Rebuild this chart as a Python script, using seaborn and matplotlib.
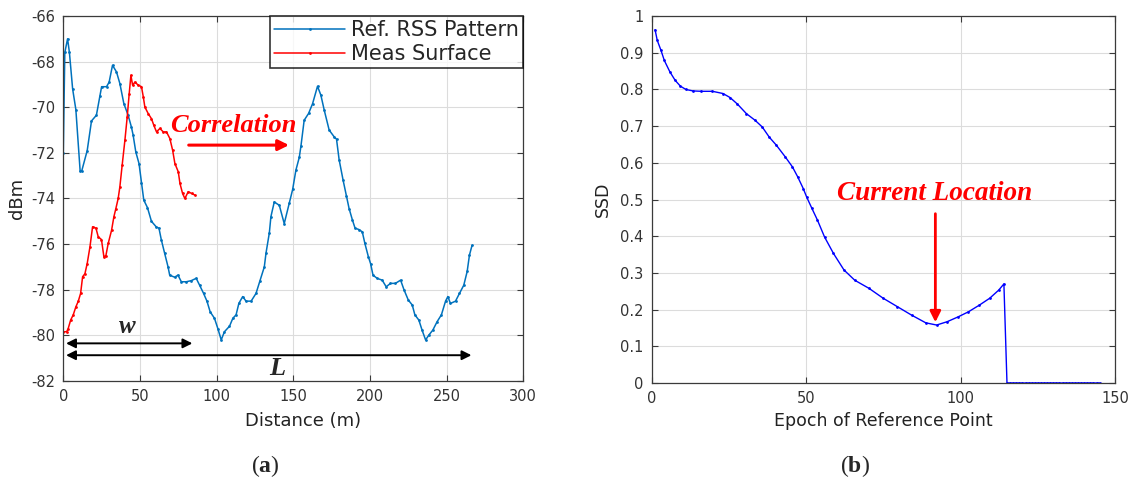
import numpy as np
import pandas as pd
import matplotlib
matplotlib.use("Agg")
import matplotlib.pyplot as plt
import seaborn as sns

# values

# (a) reference RSS pattern along the road
ref_dist = [0, 1, 2.8, 4, 6.1, 8.2, 11, 12, 15.6, 18.4, 21.6, 23.9, 25, 28.2, 29.9,
            32.1, 34.7, 36.9, 39.5, 42.3, 44.4, 45.5, 47.3, 49.4, 51, 52.5, 54.9,
            57.5, 60.7, 62.4, 63.9, 66.1, 68.3, 69.4, 72.6, 74.8, 77, 80.2, 83.5,
            86.7, 88.9, 91.5, 93.7, 95.8, 98.6, 100.8, 103, 105.1, 108.4, 110.6,
            112.7, 114.5, 117, 119.2, 122.5, 125.7, 128.3, 131.1, 132.2, 134.4,
            135.4, 137.6, 140.9, 144.1, 147.4, 149.6, 151.7, 153.9, 155, 157.1,
            160, 162.6, 165.8, 168, 170.2, 173.4, 176.7, 178.2, 179.9, 182.5,
            184.7, 186.4, 188.6, 190.3, 192.8, 195, 196.7, 199, 200.4, 202, 204.7,
            208, 210.6, 213.4, 216.6, 220, 222.2, 225, 227.6, 229.3, 231.9, 234,
            236.3, 238.5, 241, 243.8, 246.6, 249.3, 250.8, 252.5, 255.8, 258.4,
            261.2, 263.4, 264.9, 266.6]
ref_rss = [-72.0, -67.6, -67.0, -67.6, -69.2, -70.1, -72.8, -72.8, -71.9, -70.6,
           -70.35, -69.5, -69.1, -69.1, -68.9, -68.16, -68.45, -68.96, -69.84,
           -70.35, -70.86, -71.2, -71.96, -72.47, -73.3, -74.07, -74.4, -75.0,
           -75.25, -75.3, -75.8, -76.4, -76.99, -77.36, -77.45, -77.36, -77.65,
           -77.65, -77.6, -77.5, -77.8, -78.16, -78.5, -78.97, -79.25, -79.7,
           -80.2, -79.84, -79.6, -79.25, -79.1, -78.6, -78.3, -78.5, -78.5,
           -78.16, -77.6, -77.0, -76.4, -75.5, -74.8, -74.15, -74.3, -75.1,
           -74.2, -73.6, -72.76, -72.2, -71.7, -70.57, -70.27, -69.84, -69.08,
           -69.47, -70.13, -71.0, -71.3, -71.4, -72.3, -73.2, -73.9, -74.44,
           -74.95, -75.3, -75.36, -75.46, -75.97, -76.56, -76.85, -77.36, -77.5,
           -77.58, -77.87, -77.72, -77.72, -77.58, -78.0, -78.45, -78.67, -79.1,
           -79.33, -79.77, -80.2, -79.98, -79.77, -79.4, -79.1, -78.5, -78.3,
           -78.6, -78.5, -78.16, -77.8, -77.2, -76.48, -76.05]

# (a) measured surface
meas_dist = [0, 2.2, 3.2, 4.8, 6.5, 8.2, 9.8, 11.3, 12.6, 14.1, 15.6, 17.4, 19.1,
             21.3, 22.8, 24.9, 26.5, 27.8, 29.3, 31.5, 33, 34.3, 35.8, 36.9, 38.4,
             40.2, 41.7, 43, 44.1, 45.2, 46.7, 48.9, 51, 52.2, 53.2, 55.4, 57.5,
             59.1, 60.8, 63, 65.2, 67.3, 69.5, 71.3, 72.8, 75, 76.1, 77.8, 79.3,
             81.5, 83.7, 85.8]
meas_rss = [-79.84, -79.84, -79.7, -79.33, -79.1, -78.75, -78.5, -78.16, -77.43,
            -77.3, -76.85, -76.12, -75.24, -75.3, -75.68, -75.8, -76.56, -76.5,
            -75.97, -75.39, -74.8, -74.44, -74.0, -73.49, -72.54, -71.44, -70.42,
            -69.4, -68.6, -69.03, -68.9, -69.03, -69.1, -69.55, -69.99, -70.28,
            -70.5, -70.8, -71.08, -70.93, -71.08, -71.08, -71.37, -71.88, -72.47,
            -72.83, -73.34, -73.78, -74.0, -73.7, -73.78, -73.85]

# (b) SSD per epoch of reference point
epoch = [1, 1.7, 2.9, 4, 5.8, 7.5, 9.2, 11, 13.3, 16, 19.6, 23, 25.3, 27.7, 30.6,
         33.4, 35.7, 38, 40.3, 43.2, 45.5, 47.2, 49, 50.1, 51.8, 53.6, 55.9, 58.8,
         62.2, 65.7, 70.3, 74.9, 79.5, 84.1, 88.7, 92.2, 95.6, 99.1, 102.5, 106,
         109.4, 112.3, 114, 115, 116, 117, 118, 119, 120, 121, 122, 123, 124, 125,
         126, 127, 128, 129, 130, 131, 132, 133, 134, 135, 136, 137, 138, 139, 140,
         141, 142, 143, 144, 145]
ssd = [0.963, 0.934, 0.907, 0.879, 0.848, 0.825, 0.809, 0.8, 0.796, 0.795, 0.795,
       0.789, 0.778, 0.76, 0.734, 0.716, 0.698, 0.67, 0.648, 0.616, 0.589, 0.562,
       0.53, 0.507, 0.476, 0.444, 0.398, 0.353, 0.308, 0.28, 0.258, 0.231, 0.208,
       0.185, 0.164, 0.158, 0.167, 0.18, 0.194, 0.212, 0.231, 0.253, 0.27, 0, 0, 0,
       0, 0, 0, 0, 0, 0, 0, 0, 0, 0, 0, 0, 0, 0, 0, 0, 0, 0, 0, 0, 0, 0, 0, 0, 0, 0,
       0, 0]

sns.set_theme(style="whitegrid")
plt.rcParams['font.family'] = ['DejaVu Sans']
# serif mathtext for the "(a)" / "(b)" captions: plain brackets, bold letter
plt.rcParams['mathtext.fontset'] = 'custom'
plt.rcParams['mathtext.rm'] = 'Liberation Serif'
plt.rcParams['mathtext.bf'] = 'Liberation Serif:bold'

ref_df = pd.DataFrame({'dist': ref_dist, 'rss': ref_rss})
meas_df = pd.DataFrame({'dist': meas_dist, 'rss': meas_rss})
ssd_df = pd.DataFrame({'epoch': epoch, 'ssd': ssd})

fig = plt.figure(figsize=(11.28, 4.79), dpi=100)
ax1 = fig.add_axes([0.0561, 0.2046, 0.4078, 0.762])
ax2 = fig.add_axes([0.578, 0.2004, 0.4105, 0.766])

matlab_blue = '#0072BD'
grid_col = '#dcdcdc'
tick_col = '#333333'


def style_axes(ax):
    ax.set_facecolor('white')
    ax.grid(True, color=grid_col, linewidth=0.8)
    for s in ax.spines.values():
        s.set_color('#3a3a3a')
        s.set_linewidth(0.9)
    ax.tick_params(direction='in', bottom=True, left=True, top=True, right=True,
                   length=4, width=0.8, colors='#3a3a3a', labelcolor=tick_col,
                   labelsize=10.5, pad=6)


# Phase 1: left panel
sns.lineplot(data=ref_df, x='dist', y='rss', ax=ax1, color=matlab_blue, lw=1.1,
             marker='.', markersize=4, markeredgewidth=0, sort=False,
             label='Ref. RSS Pattern')
sns.lineplot(data=meas_df, x='dist', y='rss', ax=ax1, color='red', lw=1.1,
             marker='.', markersize=4, markeredgewidth=0, sort=False,
             label='Meas Surface')
ax1.set_xlim(0, 300)
ax1.set_ylim(-82, -66)
ax1.set_xticks(range(0, 301, 50))
ax1.set_yticks(range(-82, -65, 2))
ax1.set_yticklabels([str(v) for v in range(-82, -65, 2)])
ax1.set_xlabel('Distance (m)', fontsize=13, color='#222222')
ax1.set_ylabel('dBm', fontsize=13, color='#222222')
ax1.xaxis.set_label_coords(0.522, -0.085)
ax1.yaxis.set_label_coords(-0.082, 0.5)
style_axes(ax1)
leg = ax1.legend(loc='upper right', fontsize=15, frameon=True, fancybox=False,
                 borderaxespad=0, handlelength=3.4, borderpad=0.2,
                 labelspacing=0.2, handletextpad=0.3)
leg.get_frame().set_edgecolor('black')
leg.get_frame().set_linewidth(1.2)

serif = ['Liberation Serif', 'DejaVu Serif']
ax1.text(69.4, -70.8, 'Correlation', color='red', fontsize=19, fontweight='bold',
         fontstyle='italic', family=serif, va='center', ha='left')
ax1.annotate('', xy=(149, -71.66), xytext=(80, -71.66),
             arrowprops=dict(arrowstyle='-|>', color='red', lw=2.2,
                             mutation_scale=16))
ax1.annotate('', xy=(0, -80.35), xytext=(86, -80.35),
             arrowprops=dict(arrowstyle='<|-|>', color='black', lw=1.4,
                             mutation_scale=14))
ax1.text(42, -79.6, 'w', fontsize=18, fontweight='bold', fontstyle='italic',
         family=serif, ha='center', va='center')
ax1.annotate('', xy=(0, -80.87), xytext=(268, -80.87),
             arrowprops=dict(arrowstyle='<|-|>', color='black', lw=1.4,
                             mutation_scale=14))
ax1.text(139.5, -81.45, 'L', fontsize=19, fontweight='bold', fontstyle='italic',
         family=serif, ha='center', va='center')

# Phase 2: right panel
sns.lineplot(data=ssd_df, x='epoch', y='ssd', ax=ax2, color='blue', lw=1.0,
             marker='.', markersize=4, markeredgewidth=0, sort=False)
ax2.set_xlim(0, 150)
ax2.set_ylim(0, 1)
ax2.set_xticks(range(0, 151, 50))
ax2.set_yticks(np.arange(0, 1.01, 0.1))
ax2.set_yticklabels(['0', '0.1', '0.2', '0.3', '0.4', '0.5', '0.6', '0.7',
                     '0.8', '0.9', '1'])
ax2.set_xlabel('Epoch of Reference Point', fontsize=12.5, color='#222222', labelpad=4)
ax2.set_ylabel('SSD', fontsize=12.5, color='#222222', labelpad=6)
style_axes(ax2)
ax2.text(91.7, 0.517, 'Current Location', color='red', fontsize=19.5,
         fontweight='bold', fontstyle='italic', family=serif,
         ha='center', va='center')
ax2.annotate('', xy=(91.8, 0.158), xytext=(91.8, 0.469),
             arrowprops=dict(arrowstyle='-|>', color='red', lw=2.0,
                             mutation_scale=16))

# panel captions
fig.text(0.235, 0.028, r'$\mathrm{(}\mathbf{a}\mathrm{)}$', fontsize=17,
         ha='center', va='center')
fig.text(0.758, 0.028, r'$\mathrm{(}\mathbf{b}\mathrm{)}$', fontsize=17,
         ha='center', va='center')

fig.savefig('out.png', dpi=100, facecolor='white')
